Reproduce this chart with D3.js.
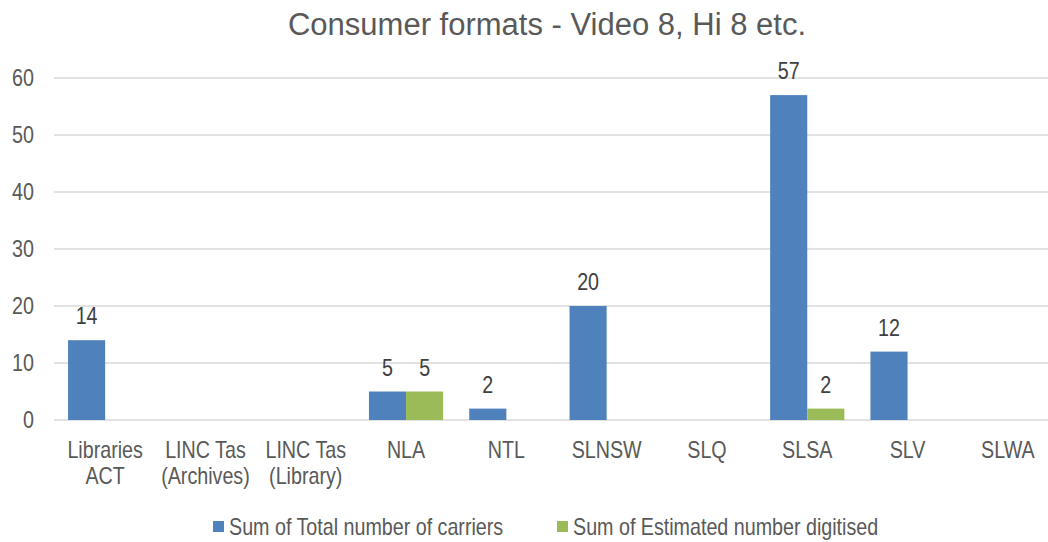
<!DOCTYPE html>
<meta charset="utf-8">
<style>
body { margin: 0; background: #fff; }
text { font-family: "Liberation Sans", Arial, sans-serif; fill: #595959; }
.grid line { stroke: #d9d9d9; stroke-width: 1.5px; }
</style>
<body>
<script src="https://d3js.org/d3.v7.min.js"></script>
<script>

// categories and the two series
var categories = ["Libraries ACT", "LINC Tas (Archives)", "LINC Tas (Library)", "NLA", "NTL", "SLNSW", "SLQ", "SLSA", "SLV", "SLWA"];
var catLines = [["Libraries", "ACT"], ["LINC Tas", "(Archives)"], ["LINC Tas", "(Library)"], ["NLA"], ["NTL"], ["SLNSW"], ["SLQ"], ["SLSA"], ["SLV"], ["SLWA"]];
var totalCarriers = [14, null, null, 5, 2, 20, null, 57, 12, null];
var estDigitised = [null, null, null, 5, null, null, null, 2, null, null];
var seriesNames = ["Sum of Total number of carriers", "Sum of Estimated number digitised"];
var colors = ["#4f81bd", "#9bbb59"];
var yTicks = [0, 10, 20, 30, 40, 50, 60];

var width = 1048, height = 542;

// squeeze text horizontally, to get an "Arial Narrow" look
function narrow(sel) {
  sel.each(function() {
    var w = this.getComputedTextLength();
    d3.select(this).attr("textLength", w * 0.82).attr("lengthAdjust", "spacingAndGlyphs");
  });
}

var svg = d3.select("body").append("svg")
    .attr("width", width)
    .attr("height", height);

var x = d3.scaleBand().domain(categories).range([55, 1058]).paddingInner(0.26).paddingOuter(0.13);
var x1 = d3.scaleBand().domain([0, 1]).range([0, x.bandwidth()]);
var y = d3.scaleLinear().domain([0, 60]).range([420, 78]);

// title
svg.append("text")
    .attr("x", 547)
    .attr("y", 35)
    .attr("text-anchor", "middle")
    .style("font-size", "31px")
    .text("Consumer formats - Video 8, Hi 8 etc.");

// gridlines
svg.append("g").attr("class", "grid")
  .selectAll("line")
  .data(yTicks)
  .enter().append("line")
    .attr("x1", 54)
    .attr("x2", width)
    .attr("y1", function(d) { return y(d); })
    .attr("y2", function(d) { return y(d); });

// y axis labels
var yAxis = svg.append("g")
    .attr("transform", "translate(34,0)")
    .call(d3.axisLeft(y).tickValues(yTicks).tickSize(0).tickPadding(0));
yAxis.select(".domain").remove();
yAxis.attr("font-family", null);
yAxis.selectAll("text")
    .style("font-size", "24px")
    .attr("fill", "#595959")
    .attr("text-anchor", "end")
    .attr("x", 0)
    .call(narrow);

// bars
var series = [totalCarriers, estDigitised];
series.forEach(function(vals, si) {
  var pts = categories.map(function(c, i) { return {cat: c, v: vals[i]}; })
    .filter(function(d) { return d.v != null; });
  var g = svg.append("g");
  g.selectAll("rect")
    .data(pts)
    .enter().append("rect")
      .attr("x", function(d) { return x(d.cat) + x1(si); })
      .attr("y", function(d) { return y(d.v); })
      .attr("width", x1.bandwidth())
      .attr("height", function(d) { return y(0) - y(d.v); })
      .attr("fill", colors[si]);
  g.selectAll("text")
    .data(pts)
    .enter().append("text")
      .attr("x", function(d) { return x(d.cat) + x1(si) + x1.bandwidth() / 2; })
      .attr("y", function(d) { return y(d.v) - 16; })
      .attr("text-anchor", "middle")
      .style("font-size", "24px")
      .style("fill", "#404040")
      .text(function(d) { return d.v; })
      .call(narrow);
});

// category labels
var xl = svg.append("g");
categories.forEach(function(c, i) {
  catLines[i].forEach(function(line, j) {
    xl.append("text")
      .attr("x", x(c) + x.bandwidth() / 2)
      .attr("y", 458 + j * 26)
      .attr("text-anchor", "middle")
      .style("font-size", "24px")
      .text(line)
      .call(narrow);
  });
});

// legend
var legX = [213, 557];
seriesNames.forEach(function(name, i) {
  svg.append("rect")
      .attr("x", legX[i])
      .attr("y", 521)
      .attr("width", 11)
      .attr("height", 11)
      .attr("fill", colors[i]);
  svg.append("text")
      .attr("x", legX[i] + 16)
      .attr("y", 535)
      .style("font-size", "24px")
      .text(name)
      .call(narrow);
});

</script>
</body>
